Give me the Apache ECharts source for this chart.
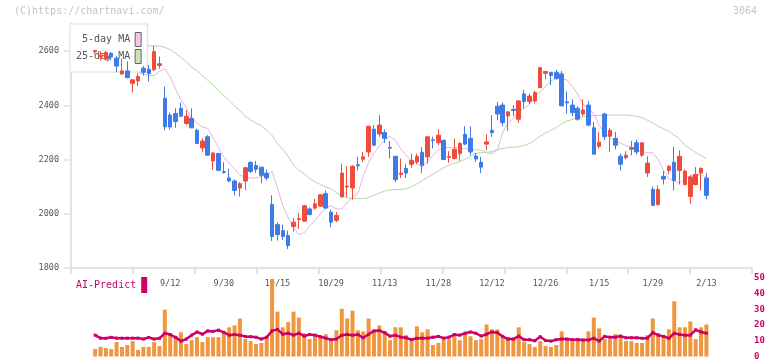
<!DOCTYPE html>
<html><head><meta charset="utf-8">
<script src="https://cdn.jsdelivr.net/npm/echarts@6/dist/echarts.min.js"></script>
<style>html,body{margin:0;padding:0;background:#fff}#c{width:772px;height:361px}</style>
</head><body><div id="c"></div>
<script>
// ---- data (candle index 0..114) ----
const tickText = ['9/12','9/30','10/15','10/29','11/13','11/28','12/12','12/26','1/15','1/29','2/13'];
const tickIndex = [14,24,34,44,54,64,74,84,94,104,114];
const opens = [2598,2580,2570,2592,2574,2516,2527,2481,2490,2537,2533,2531,2547,2426,2364,2370,2389,2333,2352,2308,
2243,2284,2195,2222,2156,2132,2121,2095,2121,2189,2178,2172,2150,2034,1960,1938,1920,1953,1979,1973,
2018,2021,2028,2074,2006,1976,2062,2099,2095,2181,2201,2228,2312,2294,2300,2245,2212,2145,2167,2183,
2191,2227,2210,2273,2262,2271,2208,2204,2222,2293,2278,2213,2190,2257,2308,2397,2401,2361,2385,2349,
2442,2414,2416,2465,2518,2522,2522,2516,2413,2401,2389,2368,2401,2317,2249,2368,2286,2278,2212,2207,
2238,2262,2216,2150,2090,2034,2138,2160,2190,2160,2108,2064,2108,2150,2132];
const closes = [2602,2585,2595,2578,2545,2527,2502,2494,2506,2522,2517,2598,2553,2321,2320,2340,2360,2360,2317,2259,
2268,2216,2224,2160,2153,2121,2086,2111,2170,2156,2164,2142,2132,1916,1923,1916,1883,1969,1982,2030,
1997,2037,2070,2021,1969,1994,2150,2102,2175,2177,2210,2323,2253,2327,2278,2242,2126,2150,2150,2197,
2212,2179,2284,2270,2290,2200,2211,2238,2259,2257,2228,2202,2172,2265,2299,2368,2336,2376,2381,2416,
2414,2434,2447,2539,2525,2510,2499,2398,2409,2373,2349,2383,2327,2220,2264,2284,2308,2253,2183,2216,
2244,2228,2262,2187,2031,2090,2128,2175,2123,2212,2157,2136,2145,2167,2068];
const lows = [2590,2565,2565,2566,2522,2512,2500,2447,2471,2510,2488,2527,2535,2308,2311,2317,2356,2327,2316,2257,
2228,2215,2162,2160,2148,2117,2068,2064,2087,2150,2151,2113,2123,1900,1901,1904,1870,1934,1944,1970,
1994,2015,2025,2019,1950,1969,2062,2062,2052,2160,2191,2210,2249,2284,2261,2204,2117,2132,2132,2170,
2183,2150,2185,2241,2253,2199,2188,2200,2195,2253,2216,2191,2150,2235,2284,2345,2323,2306,2361,2336,
2389,2405,2407,2464,2497,2475,2494,2397,2369,2360,2343,2360,2323,2219,2241,2271,2228,2238,2160,2201,
2216,2219,2210,2136,2030,2030,2108,2146,2086,2108,2105,2037,2105,2086,2053];
const highs = [2605,2600,2600,2596,2582,2572,2562,2496,2518,2545,2548,2620,2580,2469,2373,2389,2410,2382,2389,2314,
2278,2290,2228,2224,2190,2166,2127,2117,2172,2194,2195,2174,2163,2068,1969,1960,1938,1985,2002,2032,
2024,2055,2071,2086,2015,2006,2185,2175,2179,2210,2228,2324,2327,2364,2311,2268,2213,2204,2183,2222,
2222,2246,2285,2284,2312,2273,2231,2278,2265,2323,2323,2225,2210,2294,2364,2413,2410,2377,2401,2420,
2457,2444,2454,2540,2526,2523,2530,2527,2451,2422,2397,2422,2416,2339,2302,2373,2317,2302,2222,2231,
2269,2274,2263,2212,2101,2105,2158,2179,2247,2234,2164,2142,2172,2172,2150];
const ma5 = [2590,2588,2586,2585,2582,2575,2560,2540,2522,2515,2510,2510,2525,2535,2505,2460,2420,2390,2350,2335,
2320,2315,2280,2245,2210,2185,2165,2143,2135,2132,2132,2138,2145,2156,2095,2030,1985,1950,1923,1930,
1955,1975,2000,2020,2030,2018,2018,2040,2060,2075,2140,2190,2222,2250,2272,2286,2270,2240,2215,2195,
2185,2172,2195,2215,2235,2244,2244,2244,2244,2240,2238,2236,2235,2225,2222,2235,2300,2335,2352,2375,
2390,2402,2435,2450,2470,2490,2500,2497,2494,2470,2440,2405,2385,2370,2325,2300,2280,2268,2262,2250,
2247,2235,2230,2225,2225,2200,2160,2130,2120,2114,2130,2140,2146,2142,2136];
const ma25 = [2622,2623,2623,2622,2622,2621,2621,2620,2620,2620,2620,2619,2618,2614,2605,2592,2577,2562,2540,2528,
2510,2492,2475,2455,2436,2418,2398,2380,2360,2346,2334,2325,2308,2290,2258,2238,2212,2180,2160,2148,
2130,2118,2108,2098,2092,2078,2066,2059,2056,2056,2056,2060,2068,2076,2084,2088,2089,2089,2092,2100,
2110,2123,2134,2146,2158,2170,2179,2186,2192,2200,2214,2222,2226,2227,2229,2236,2241,2244,2246,2247,
2252,2259,2272,2286,2298,2308,2318,2332,2342,2348,2352,2358,2360,2362,2363,2364,2364,2364,2364,2364,
2362,2360,2355,2345,2335,2323,2313,2305,2290,2276,2252,2240,2226,2215,2204];
const volume = [4.8,6.1,5.4,4.8,9.2,6.1,7.3,9.8,4.2,6.1,6.1,9.2,6.7,29.8,13.6,12.9,15.4,7.9,10.4,12.3,
9.2,12.3,12.3,12.3,14.8,18.6,19.8,24.2,11.1,9.8,7.9,8.6,12.3,49.2,28.6,18.6,21.9,28.6,24.8,14.8,
11.1,12.9,12.3,14.2,11.1,16.7,30.4,24.2,29.2,16.7,16.0,24.2,16.7,19.8,16.0,10.4,18.6,18.6,13.6,9.8,
19.2,15.4,17.3,7.3,8.6,11.1,11.1,14.2,10.4,14.8,12.9,10.4,11.1,20.4,17.3,17.3,12.3,12.3,10.4,18.6,
9.2,7.9,6.1,9.8,6.7,6.1,7.3,16.0,11.1,11.1,11.7,11.1,16.0,24.8,17.9,11.1,11.1,14.2,12.3,9.8,
9.8,8.6,8.6,13.6,24.2,14.8,13.6,17.3,35.2,18.6,18.6,22.3,11.1,18.6,20.4];
const aiPredict = [13.6,11.7,11.6,12.2,11.7,11.7,11.7,11.7,11.7,11.1,12.1,11.1,11.6,14.8,14.0,12.2,9.8,11.1,13.6,15.6,
14.2,16.3,16.0,16.8,15.4,13.6,14.0,13.6,12.8,12.6,12.3,11.1,12.3,16.3,17.3,14.2,14.8,13.6,14.8,13.0,
14.0,13.6,12.6,11.7,10.7,11.1,13.6,14.0,13.6,14.0,11.9,14.2,16.3,16.5,15.2,12.9,13.6,12.3,11.9,10.7,
11.6,11.7,11.7,12.3,12.8,11.7,12.3,14.0,13.6,14.8,15.6,14.8,13.0,14.2,15.6,15.2,12.8,11.1,11.1,13.0,
10.7,10.7,10.0,12.6,10.2,9.8,10.7,11.1,11.1,10.7,10.7,10.5,10.5,11.6,9.8,12.8,12.3,12.3,13.0,11.9,
11.9,11.9,11.6,11.7,15.2,13.6,12.8,11.6,14.8,14.0,13.6,13.6,17.0,15.6,14.8];
const priceTicks = [1800,2000,2200,2400,2600];
const volTicks = [0,10,20,30,40,50];

// ---- layout helpers: 4 empty slots before, 8 after ----
const PRE = 4, POST = 8;
const N = opens.length, SLOTS = PRE + N + POST;
const pad = arr => Array(PRE).fill('-').concat(arr, Array(POST).fill('-'));
const cats = [];
for (let s = 0; s < SLOTS; s++) {
  const i = s - PRE, k = tickIndex.indexOf(i);
  cats.push(k >= 0 ? tickText[k] : 'c' + s);
}
const candle = pad(opens.map((o, i) => [o, closes[i], lows[i], highs[i]]));
const MONO = 'DejaVu Sans Mono';
const RED = '#f04c3c', BLUE = '#3f7be8', AXIS = '#e2e2e2', CRIMSON = '#cc0066';

const chart = echarts.init(document.getElementById('c'), null, {renderer: 'canvas'});
chart.setOption({
  animation: false,
  backgroundColor: '#fff',
  grid: [
    {left: 71, top: 24, width: 681, height: 244},
    {left: 71, top: 278, width: 681, height: 80}
  ],
  xAxis: [
    {type: 'category', gridIndex: 0, data: cats, boundaryGap: true,
     axisLine: {show: false}, axisTick: {show: false}, splitLine: {show: false},
     axisLabel: {interval: (idx, val) => tickText.indexOf(val) >= 0, margin: 11,
       fontFamily: MONO, fontSize: 8.5, color: '#555'}},
    {type: 'value', gridIndex: 0, min: 0, max: 11, interval: 1, position: 'bottom',
     axisLine: {show: true, lineStyle: {color: AXIS, width: 2}},
     axisTick: {show: true, length: 6, lineStyle: {color: AXIS, width: 2}},
     axisLabel: {show: false}, splitLine: {show: false}},
    {type: 'category', gridIndex: 1, data: cats, boundaryGap: true, show: false}
  ],
  yAxis: [
    {type: 'value', gridIndex: 0, min: 1800, max: 2700, interval: 200,
     axisLine: {show: true, lineStyle: {color: AXIS, width: 2}},
     axisTick: {show: true, length: 7, customValues: priceTicks, lineStyle: {color: AXIS, width: 1.5}},
     axisLabel: {customValues: priceTicks, formatter: v => String(v), margin: 12,
       fontFamily: MONO, fontSize: 8.5, color: '#555'},
     splitLine: {show: false}},
    {type: 'value', gridIndex: 1, position: 'right', min: 0, max: 50, interval: 10,
     axisLine: {show: false}, axisTick: {show: false}, splitLine: {show: false},
     axisLabel: {customValues: volTicks, formatter: v => String(v), margin: 2,
       fontFamily: MONO, fontSize: 9, fontWeight: 'bold', color: CRIMSON}}
  ],
  legend: [
    {orient: 'vertical', align: 'right', left: 70, top: 24, z: 3, selectedMode: false,
     backgroundColor: '#fff', borderColor: '#dcdcdc', borderWidth: 1, padding: [8, 6, 8, 6],
     itemGap: 2, itemWidth: 6, itemHeight: 14,
     textStyle: {fontFamily: MONO, fontSize: 10, color: '#555'},
     data: [
       {name: '5-day MA', icon: 'rect', itemStyle: {color: '#f0c6ef', borderColor: '#666', borderWidth: 1}},
       {name: '25-day MA', icon: 'rect', itemStyle: {color: '#c6e4b6', borderColor: '#666', borderWidth: 1}}
     ]},
    {orient: 'horizontal', align: 'right', left: 76, top: 277, z: 6, selectedMode: false,
     padding: 0, itemWidth: 6, itemHeight: 16,
     textStyle: {fontFamily: MONO, fontSize: 10, color: CRIMSON},
     data: [{name: 'AI-Predict', icon: 'rect', itemStyle: {color: CRIMSON, borderWidth: 0}}]}
  ],
  graphic: [
    {type: 'text', left: 14, top: 6, z: 10, style: {text: '(C)https://chartnavi.com/', font: '10px "DejaVu Sans Mono"', fill: '#c4c4c4'}},
    {type: 'text', right: 15, top: 6, z: 10, style: {text: '3064', font: '10px "DejaVu Sans Mono"', fill: '#c4c4c4'}}
  ],
  series: [
    {name: '5-day MA', type: 'line', xAxisIndex: 0, yAxisIndex: 0, data: pad(ma5), z: 2,
     symbol: 'none', lineStyle: {color: '#e6b2e6', width: 1}, itemStyle: {color: '#e6b2e6'}},
    {name: '25-day MA', type: 'line', xAxisIndex: 0, yAxisIndex: 0, data: pad(ma25), z: 2,
     symbol: 'none', lineStyle: {color: '#b0d8a4', width: 1}, itemStyle: {color: '#b0d8a4'}},
    {name: 'price', type: 'candlestick', xAxisIndex: 0, yAxisIndex: 0, data: candle, z: 4,
     barWidth: 4,
     itemStyle: {color: RED, color0: BLUE, borderColor: RED, borderColor0: BLUE, borderWidth: 1}},
    {name: 'volume', type: 'bar', xAxisIndex: 2, yAxisIndex: 1, data: pad(volume), z: 2,
     barWidth: 4, itemStyle: {color: '#f0963e'}},
    {name: 'AI-Predict', type: 'line', xAxisIndex: 2, yAxisIndex: 1, data: pad(aiPredict), z: 3,
     symbol: 'rect', symbolSize: 3, showAllSymbol: true,
     lineStyle: {color: CRIMSON, width: 2.5}, itemStyle: {color: CRIMSON}}
  ]
});
</script></body></html>
